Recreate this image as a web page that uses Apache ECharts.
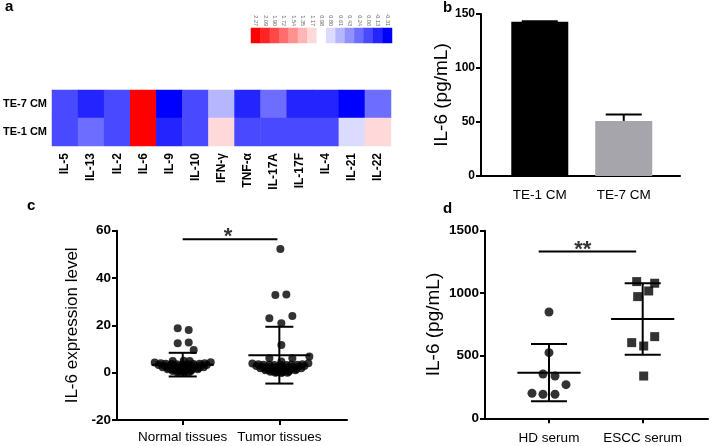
<!DOCTYPE html>
<html><head><meta charset="utf-8">
<script src="https://cdn.jsdelivr.net/npm/echarts@6/dist/echarts.min.js"></script>
<style>html,body{margin:0;padding:0;background:#fff}#c{width:710px;height:446px}</style>
</head><body><div id="c"></div>
<script>
// ---------- Panel a: heatmap ----------
const cytokines = ['IL-5','IL-13','IL-2','IL-6','IL-9','IL-10','IFN-γ','TNF-α','IL-17A','IL-17F','IL-4','IL-21','IL-22'];
const cellLines = ['TE-1 CM','TE-7 CM'];
const te7Values = [0.06,-0.13,0.06,2.27,-0.31,0.06,0.61,-0.13,0.24,-0.13,-0.13,-0.31,0.24];
const te1Values = [0.06,0.24,0.06,2.27,-0.13,0.06,1.17,0.06,0.06,0.06,0.06,0.80,1.17];
const scaleLabels = ['2.27','2.09','1.90','1.72','1.54','1.35','1.17','0.98','0.80','0.61','0.43','0.24','0.06','-0.13','-0.31'];

// ---------- Panel b: bars ----------
const barCategories = ['TE-1 CM','TE-7 CM'];
const barMeans = [142.8, 51];
const barSD = [0.5, 6];
const barColors = ['#000000','#a5a5ab'];

// ---------- Panel c: tissues ----------
const tissueGroups = ['Normal tissues','Tumor tissues'];
const normalValues = [18.8,18.0,12.4,12.7,9.6,4.9,5.0,4.9,
  4.3,4.0,3.8,3.7,3.6,3.6,3.6,3.7,3.8,4.0,4.4,
  3.2,2.9,2.8,2.7,2.7,2.7,2.8,2.9,3.2,
  2.3,2.0,1.9,1.8,1.8,1.9,2.0,2.3,
  1.4,1.2,1.1,1.1,1.2,1.4,
  0.7,0.5,0.5,0.7,
  0.1,0.0,0.1];
const normalJitter = [-5,6,-5,6,11,-10,1,7,
  -28,-22,-17,-11,-6,0,6,11,17,22,28,
  -24,-18,-12,-6,0,6,12,18,24,
  -20,-14,-8,-2,4,10,16,21,
  -15,-9,-3,3,9,15,
  -10,-4,2,8,
  -5,1,6];
const tumorValues = [52.3,33.0,32.8,24.0,23.0,20.9,11.7,6.8,6.1,6.1,4.7,
  3.9,3.6,3.4,3.3,3.2,3.2,3.2,3.3,3.4,3.6,4.0,
  2.8,2.5,2.4,2.3,2.3,2.3,2.4,2.5,2.8,
  1.9,1.6,1.5,1.4,1.4,1.5,1.6,1.9,
  1.0,0.8,0.7,0.7,0.8,1.0,
  0.4,0.2,0.2,0.4,
  0.0,-0.1,0.0];
const tumorJitter = [1,7,-4,13,-10,2,2,30,-10,13,2,
  -27,-21,-16,-10,-5,1,7,12,18,23,29,
  -23,-17,-11,-5,1,7,13,19,25,
  -19,-13,-7,-1,5,11,17,22,
  -14,-8,-2,4,10,16,
  -9,-3,3,9,
  -4,2,8];
const tissueMeans = [3.4, 7.4];
const tissueSD = [5.0, 12.0];
const tissueSigSpan = [1.0, 1.98];
const tissueSigLevel = 56.4;
const tissueSigText = '*';

// ---------- Panel d: serum ----------
const serumGroups = ['HD serum','ESCC serum'];
const hdValues = [850,525,354,338,269,200,192,192];
const hdJitter = [0,0,-6,6,17,-17,-6,6];
const esccValues = [1093,1080,1018,973,605,653,578,338];
const esccJitter = [-6,12,6,-5,-11,12,1,1];
const serumMeans = [365, 794];
const serumSD = [229, 286];
const serumSigSpan = [0.89, 1.93];
const serumSigLevel = 1333;
const serumSigText = '**';

const FONT = '"Liberation Sans", Arial, sans-serif';
const BLACK = '#000';

function valueXAxis(gridIndex, min, max, names, margin, showTicks) {
  return {type:'value', gridIndex, min, max, splitLine:{show:false},
    axisLine:{show:true, onZero:false, lineStyle:{color:BLACK, width:2}},
    axisTick:{show:showTicks, customValues:[1,2], length:5, lineStyle:{color:BLACK, width:2}},
    axisLabel:{customValues:[1,2], formatter:v=>names[Math.round(v)-1]||'', margin, color:BLACK, fontSize:13.5, fontFamily:FONT}};
}
function valueYAxis(gridIndex, min, max, interval, name, nameGap, nameSize, labelSize) {
  return {type:'value', gridIndex, min, max, interval, name, nameLocation:'middle', nameGap, nameRotate:90,
    nameTextStyle:{fontSize:nameSize, color:BLACK, fontFamily:FONT},
    splitLine:{show:false}, axisLine:{show:true, onZero:false, lineStyle:{color:BLACK, width:2}},
    axisTick:{show:true, length:5, lineStyle:{color:BLACK, width:2}},
    axisLabel:{color:BLACK, fontSize:labelSize, fontWeight:'bold', fontFamily:FONT, margin:6, formatter:v=>String(v)}};
}
function meanSd(xi, yi, means, sds, halfMean, halfCap, upOnly) {
  return {type:'custom', xAxisIndex:xi, yAxisIndex:yi, z:5, silent:true,
    data: means.map((m,i)=>[i+1, m, sds[i]]),
    renderItem(params, api) {
      const x = api.value(0), m = api.value(1), s = api.value(2);
      const c = api.coord([x, m]), t = api.coord([x, m+s]), b = api.coord([x, upOnly ? m : m-s]);
      const st = {stroke:BLACK, lineWidth:2, fill:null};
      const ch = [
        {type:'line', shape:{x1:c[0],y1:t[1],x2:c[0],y2:b[1]}, style:st},
        {type:'line', shape:{x1:c[0]-halfCap,y1:t[1],x2:c[0]+halfCap,y2:t[1]}, style:st}
      ];
      if (!upOnly) {
        ch.push({type:'line', shape:{x1:c[0]-halfMean,y1:c[1],x2:c[0]+halfMean,y2:c[1]}, style:st});
        ch.push({type:'line', shape:{x1:c[0]-halfCap,y1:b[1],x2:c[0]+halfCap,y2:b[1]}, style:st});
      }
      return {type:'group', children:ch};
    }};
}
function jittered(values, jitter, x) {
  return values.map((v,i)=>({value:[x, v], symbolOffset:[jitter[i], 0]}));
}
function sigLine(xi, yi, span, level) {
  return {type:'line', xAxisIndex:xi, yAxisIndex:yi, symbol:'none', silent:true,
    lineStyle:{color:BLACK, width:2}, data: span.map(x=>[x, level])};
}
function sigText(xi, yi, span, level, text, dx, dy) {
  return {type:'scatter', xAxisIndex:xi, yAxisIndex:yi, symbolSize:1, silent:true,
    itemStyle:{color:'rgba(0,0,0,0)'},
    label:{show:true, position:'inside', formatter:text, color:BLACK, fontSize:22, fontWeight:'bold', fontFamily:FONT, offset:[dx, dy]},
    data:[[(span[0]+span[1])/2, level]]};
}

const option = {
  animation:false,
  backgroundColor:'#fff',
  title:[
    {text:'a', left:5, top:-1, padding:0, textStyle:{fontSize:15, fontWeight:'bold', color:BLACK, fontFamily:FONT}},
    {text:'b', left:443, top:0, padding:0, textStyle:{fontSize:15, fontWeight:'bold', color:BLACK, fontFamily:FONT}},
    {text:'c', left:27, top:198, padding:0, textStyle:{fontSize:15, fontWeight:'bold', color:BLACK, fontFamily:FONT}},
    {text:'d', left:443, top:201, padding:0, textStyle:{fontSize:15, fontWeight:'bold', color:BLACK, fontFamily:FONT}}
  ],
  grid:[
    {left:251, top:28, width:141, height:15},
    {left:50, top:90, width:341, height:56},
    {left:481, top:14, width:199, height:162},
    {left:117, top:230.7, width:230, height:189.3},
    {left:485, top:230.7, width:223, height:187.6}
  ],
  visualMap:{type:'continuous', show:false, min:-0.31, max:2.27, dimension:2, seriesIndex:[0,1],
    inRange:{color:['#0000ff','#ffffff','#ff0000']}},
  xAxis:[
    {type:'category', gridIndex:0, position:'top', data:scaleLabels, axisLine:{show:false}, axisTick:{show:false},
      axisLabel:{rotate:90, fontSize:5.5, color:'#666', margin:2, fontFamily:FONT, interval:0}},
    {type:'category', gridIndex:1, data:cytokines, axisLine:{show:false}, axisTick:{show:false},
      axisLabel:{rotate:90, fontSize:12, fontWeight:'bold', color:BLACK, margin:7, fontFamily:FONT, interval:0}},
    valueXAxis(2, 0.3, 2.67, barCategories, 12, false),
    valueXAxis(3, 0.32, 2.70, tissueGroups, 10, true),
    valueXAxis(4, 0.317, 2.697, serumGroups, 13, true)
  ],
  yAxis:[
    {type:'category', gridIndex:0, data:[''], show:false},
    {type:'category', gridIndex:1, data:cellLines, axisLine:{show:false}, axisTick:{show:false},
      axisLabel:{fontSize:11, fontWeight:'bold', color:BLACK, margin:5, fontFamily:FONT}},
    valueYAxis(2, 0, 150, 50, 'IL-6 (pg/mL)', 22, 19, 12),
    valueYAxis(3, -20, 60, 20, 'IL-6 expression level', 36, 17, 13.5),
    valueYAxis(4, 0, 1500, 500, 'IL-6 (pg/mL)', 42, 19, 13.5)
  ],
  series:[
    {type:'heatmap', xAxisIndex:0, yAxisIndex:0, silent:true,
      data: scaleLabels.map((l,i)=>[i, 0, parseFloat(l)])},
    {type:'heatmap', xAxisIndex:1, yAxisIndex:1, silent:true,
      data: cytokines.map((c,i)=>[i, 1, te7Values[i]]).concat(cytokines.map((c,i)=>[i, 0, te1Values[i]]))},
    {type:'bar', xAxisIndex:2, yAxisIndex:2, barWidth:57, silent:true,
      data: barMeans.map((m,i)=>({value:[i+1, m], itemStyle:{color:barColors[i]}}))},
    meanSd(2, 2, barMeans, barSD, 0, 18, true),
    {type:'scatter', xAxisIndex:3, yAxisIndex:3, symbol:'circle', symbolSize:8, itemStyle:{color:BLACK}, silent:true,
      data: jittered(normalValues, normalJitter, 1)},
    {type:'scatter', xAxisIndex:3, yAxisIndex:3, symbol:'circle', symbolSize:8, itemStyle:{color:BLACK}, silent:true,
      data: jittered(tumorValues, tumorJitter, 2)},
    meanSd(3, 3, tissueMeans, tissueSD, 31, 14, false),
    sigLine(3, 3, tissueSigSpan, tissueSigLevel),
    sigText(3, 3, [1.47, 1.47], tissueSigLevel, tissueSigText, 0, -2),
    {type:'scatter', xAxisIndex:4, yAxisIndex:4, symbol:'circle', symbolSize:9, itemStyle:{color:BLACK}, silent:true,
      data: jittered(hdValues, hdJitter, 1)},
    {type:'scatter', xAxisIndex:4, yAxisIndex:4, symbol:'rect', symbolSize:9, itemStyle:{color:BLACK}, silent:true,
      data: jittered(esccValues, esccJitter, 2)},
    meanSd(4, 4, serumMeans, serumSD, 31.6, 18, false),
    sigLine(4, 4, serumSigSpan, serumSigLevel),
    sigText(4, 4, [1.36, 1.36], serumSigLevel, serumSigText, 0, -2)
  ]
};
const chart = echarts.init(document.getElementById('c'), null, {renderer:'canvas'});
chart.setOption(option);
</script>
</body></html>
